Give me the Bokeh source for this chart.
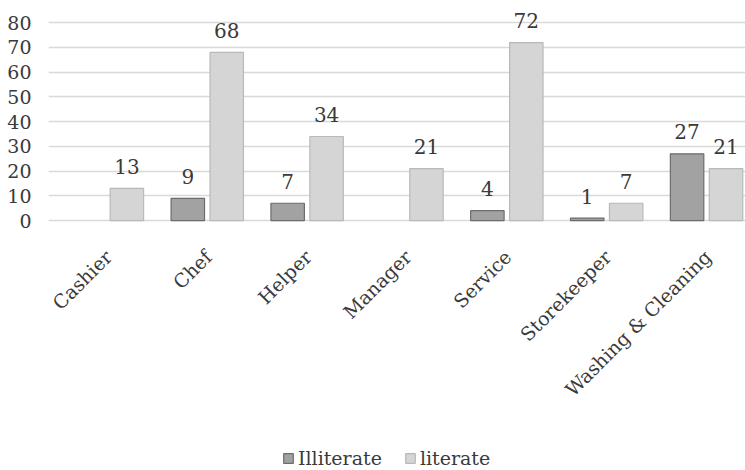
from math import pi

from bokeh.embed import file_html
from bokeh.resources import INLINE
from bokeh.plotting import figure
from bokeh.models import (ColumnDataSource, Range1d, FixedTicker, Legend,
                          LegendItem, CDSView, BooleanFilter)
from bokeh.core.properties import value
from bokeh.transform import dodge

# Staff literacy by job role
categories = ["Cashier", "Chef", "Helper", "Manager", "Service",
              "Storekeeper", "Washing & Cleaning"]
illiterate = [0, 9, 7, 0, 4, 1, 27]
literate = [13, 68, 34, 21, 72, 7, 21]
y_ticks = [0, 10, 20, 30, 40, 50, 60, 70, 80]

FONT = "DejaVu Serif"
TEXT = "#3a3a3a"
ILL_FILL, ILL_LINE = "#a2a2a2", "#6c6c6c"
LIT_FILL, LIT_LINE = "#d5d5d5", "#b9b9b9"

pos = list(range(len(categories)))
src = ColumnDataSource(dict(
    x=pos, cat=categories, base=[0] * len(categories),
    ill=illiterate, lit=literate,
    ill_txt=[str(v) for v in illiterate],
    lit_txt=[str(v) for v in literate],
))

# the plotting area runs down to the bottom edge so that the slanted
# category names and the legend can live inside it
p = figure(frame_width=697, frame_height=470, output_backend="svg",
           toolbar_location=None,
           x_range=Range1d(-0.59, 6.39), y_range=Range1d(-101.1, 89),
           min_border_left=48, min_border_right=0, min_border_top=0,
           min_border_bottom=0)
p.outline_line_color = None
p.background_fill_color = "white"
p.border_fill_color = "white"

# zero-valued bars are left out
ill_view = CDSView(filter=BooleanFilter([v > 0 for v in illiterate]))
lit_view = CDSView(filter=BooleanFilter([v > 0 for v in literate]))

OFF = 0.195
W = 0.335
r_ill = p.vbar(x=dodge("x", -OFF), top="ill", width=W, source=src, view=ill_view,
               fill_color=ILL_FILL, line_color=ILL_LINE, line_width=1.2)
r_lit = p.vbar(x=dodge("x", OFF), top="lit", width=W, source=src, view=lit_view,
               fill_color=LIT_FILL, line_color=LIT_LINE, line_width=1.2)

# value labels above the bars
p.text(x=dodge("x", -OFF), y="ill", text="ill_txt", source=src, view=ill_view,
       text_align="center", text_baseline="alphabetic", y_offset=-22,
       text_font=value(FONT), text_font_size="20px", text_color=TEXT)
p.text(x=dodge("x", OFF), y="lit", text="lit_txt", source=src, view=lit_view,
       text_align="center", text_baseline="alphabetic", y_offset=-22,
       text_font=value(FONT), text_font_size="20px", text_color=TEXT)

# slanted category names under the baseline
p.text(x="x", y="base", text="cat", source=src, angle=pi / 4,
       text_align="right", text_baseline="middle", x_offset=1, y_offset=33,
       text_font=value(FONT), text_font_size="19px", text_color=TEXT)

# axes
p.xaxis.visible = False
p.yaxis.ticker = FixedTicker(ticks=y_ticks)
p.yaxis.axis_line_color = None
p.yaxis.major_tick_line_color = None
p.yaxis.minor_tick_line_color = None
p.yaxis.major_label_standoff = 11
p.yaxis.major_label_text_font = FONT
p.yaxis.major_label_text_font_size = "19px"
p.yaxis.major_label_text_color = TEXT

p.xgrid.grid_line_color = None
p.ygrid.ticker = FixedTicker(ticks=y_ticks)
p.ygrid.grid_line_color = "#d9d9d9"
p.ygrid.grid_line_width = 1.5

legend = Legend(items=[LegendItem(label="Illiterate", renderers=[r_ill]),
                       LegendItem(label="literate", renderers=[r_lit])],
                orientation="horizontal", location=(234, 1),
                padding=0, margin=0, spacing=22, label_standoff=4,
                glyph_width=12, glyph_height=12,
                label_text_font=FONT, label_text_font_size="19px",
                label_text_color=TEXT,
                background_fill_alpha=0, border_line_color=None)
p.add_layout(legend, "center")

open("out.html", "w").write(file_html(p, INLINE))
